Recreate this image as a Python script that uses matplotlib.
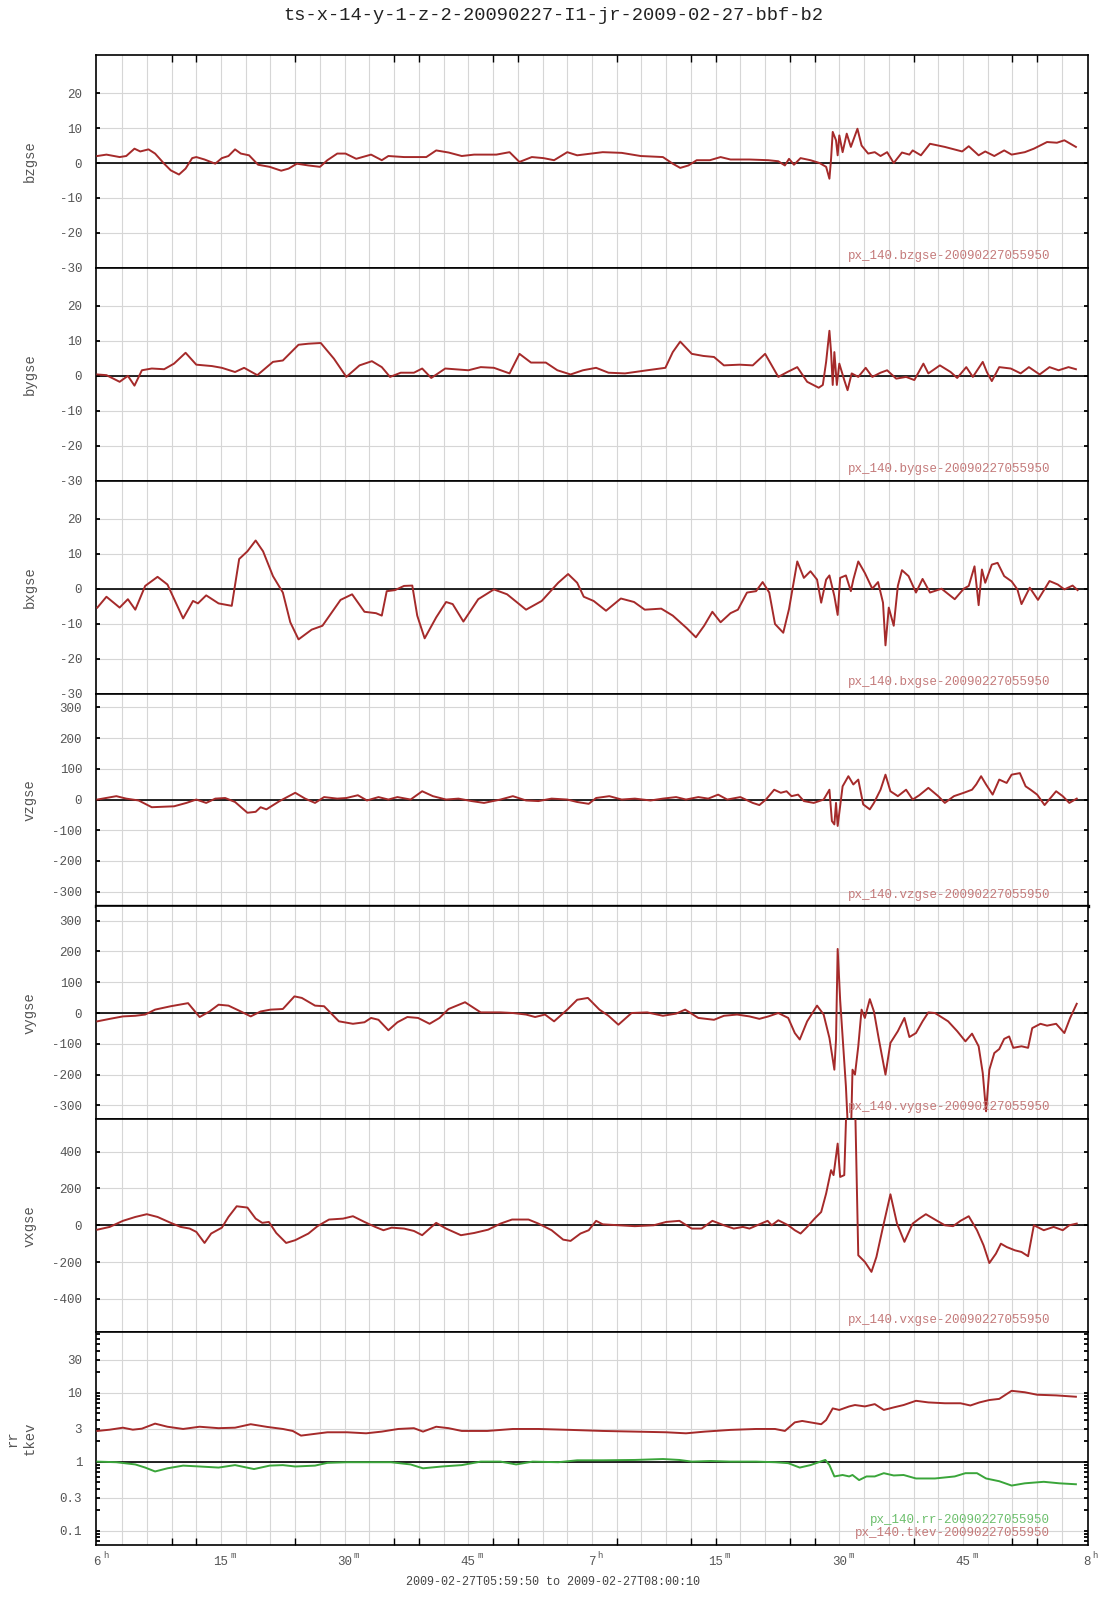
import matplotlib
matplotlib.use("Agg")
import matplotlib.pyplot as plt
import matplotlib.transforms as mtransforms
import numpy as np

plt.rcParams["font.family"] = ["Liberation Mono", "DejaVu Sans Mono"]

TITLE = "ts-x-14-y-1-z-2-20090227-I1-jr-2009-02-27-bbf-b2"
SPAN = "2009-02-27T05:59:50 to 2009-02-27T08:00:10"
STAMP = "20090227055950"

# time in minutes after 06:00
bzgse_t = [0.0, 1.1, 2.7, 3.5, 4.5, 5.2, 6.2, 7.0, 8.1, 8.9, 9.9, 10.7, 11.5, 12.0, 13.0, 14.3,
           15.1, 15.9, 16.7, 17.4, 18.4, 19.5, 20.9, 22.3, 23.2, 24.2, 25.6, 27.0, 27.9, 29.1,
           30.1, 31.4, 33.2, 34.5, 35.3, 37.2, 39.9, 41.1, 42.6, 44.2, 45.7, 48.4, 50.0, 51.2,
           52.7, 54.1, 55.4, 57.0, 58.2, 61.3, 63.6, 65.9, 68.6, 69.8, 70.7, 71.7, 72.7, 74.3,
           75.6, 76.8, 79.1, 81.4, 82.6, 83.4, 83.9, 84.5, 85.3, 86.5, 87.6, 88.4, 88.8, 89.0,
           89.2, 89.6, 89.8, 90.0, 90.4, 90.9, 91.4, 92.2, 92.7, 93.5, 94.3, 95.0, 95.8, 96.6,
           97.6, 98.5, 98.9, 99.9, 101.0, 102.8, 104.9, 105.7, 106.9, 107.7, 108.8, 110.0,
           110.9, 112.5, 113.6, 115.2, 116.4, 117.3, 118.7]
bzgse = [2.0, 2.4, 1.7, 2.0, 4.1, 3.3, 3.9, 2.7, -0.2, -2.1, -3.3, -1.6, 1.4, 1.7, 1.0, -0.2,
         1.4, 2.0, 3.9, 2.7, 2.2, -0.5, -1.1, -2.2, -1.6, -0.2, -0.7, -1.1, 0.8, 2.7,
         2.7, 1.2, 2.4, 0.8, 2.0, 1.7, 1.7, 3.6, 3.0, 2.0, 2.4, 2.4, 3.1, 0.3,
         1.7, 1.4, 0.8, 3.1, 2.2, 3.1, 2.9, 2.0, 1.7, -0.2, -1.4, -0.7, 0.8, 0.8,
         1.7, 1.0, 1.0, 0.8, 0.5, -0.7, 1.2, -0.5, 1.4, 0.8, 0.0, -1.1, -4.5, 1.2,
         8.9, 6.5, 2.2, 7.9, 3.1, 8.4, 4.6, 9.8, 5.0, 2.7, 3.1, 2.0, 3.1, 0.0,
         3.0, 2.4, 3.6, 2.2, 5.5, 4.6, 3.3, 4.8, 2.2, 3.3, 2.0, 3.6,
         2.4, 3.1, 4.1, 6.0, 5.8, 6.5, 4.6]

bygse_t = [0.0, 1.1, 2.7, 3.7, 4.5, 5.4, 6.6, 8.1, 9.3, 10.7, 12.0, 13.9, 15.1, 16.7, 17.8,
           19.4, 21.3, 22.5, 24.4, 25.6, 27.1, 28.7, 30.2, 31.8, 33.3, 34.5, 35.5, 36.8, 38.4,
           39.4, 40.5, 42.2, 45.0, 46.5, 48.1, 50.0, 51.2, 52.6, 54.4, 55.8, 57.4, 58.9, 60.5,
           62.0, 64.0, 66.7, 68.9, 69.8, 70.7, 72.1, 73.5, 74.8, 76.0, 77.9, 79.5, 81.0, 82.6,
           83.7, 84.9, 86.1, 87.5, 88.0, 88.4, 88.8, 89.0, 89.2, 89.4, 89.7, 90.0, 90.6, 91.0,
           91.5, 92.3, 93.2, 94.0, 95.0, 95.8, 96.9, 98.1, 99.1, 100.2, 100.8, 102.2, 103.5,
           104.3, 105.4, 106.2, 107.4, 107.9, 108.5, 109.4, 110.8, 112.0, 113.0, 114.3, 115.5,
           116.6, 117.8, 118.7]
bygse = [0.4, 0.2, -1.7, 0.0, -2.8, 1.6, 2.1, 1.9, 3.5, 6.6, 3.2, 2.8, 2.3, 1.1, 2.3,
         0.2, 4.0, 4.4, 8.9, 9.2, 9.4, 4.9, -0.3, 3.0, 4.2, 2.5, -0.3, 0.9, 0.9,
         2.1, -0.6, 2.1, 1.6, 2.5, 2.3, 0.7, 6.3, 3.8, 3.8, 1.6, 0.4, 1.6, 2.3,
         0.9, 0.7, 1.6, 2.3, 6.8, 9.8, 6.3, 5.7, 5.4, 3.0, 3.2, 3.0, 6.3, -0.3,
         1.1, 2.5, -1.7, -3.4, -2.6, 4.0, 12.9, 6.8, -2.6, 6.8, -2.6, 3.5, -1.2, -4.1,
         0.7, -0.3, 2.3, -0.3, 0.9, 1.6, -0.8, -0.3, -1.2, 3.5, 0.7, 3.0, 1.1,
         -0.6, 2.5, -0.3, 4.0, 1.1, -1.5, 2.5, 2.1, 0.7, 2.5, 0.4, 2.5,
         1.6, 2.5, 1.9]

bxgse_t = [0.0, 1.1, 2.7, 3.7, 4.6, 5.8, 7.3, 8.5, 10.4, 11.6, 12.2, 13.2, 14.7, 16.3, 17.2,
           18.2, 19.2, 20.1, 21.3, 22.5, 23.4, 24.4, 26.0, 27.3, 29.5, 30.9, 32.4, 33.8, 34.5,
           35.1, 36.1, 37.2, 38.2, 38.8, 39.7, 41.1, 42.3, 43.1, 44.4, 46.2, 48.1, 49.7, 52.0,
           53.9, 55.9, 57.1, 58.2, 59.0, 60.2, 61.7, 63.5, 65.1, 66.4, 68.4, 69.8, 71.5, 72.6,
           73.6, 74.6, 75.6, 76.8, 77.7, 78.8, 79.9, 80.7, 81.5, 82.2, 83.2, 83.9, 84.9, 85.7,
           86.5, 87.3, 87.8, 88.4, 88.8, 89.4, 89.8, 90.1, 90.8, 91.4, 91.7, 92.3, 93.1, 94.0,
           94.7, 95.3, 95.6, 96.0, 96.6, 97.1, 97.6, 98.4, 99.3, 100.1, 101.0, 102.4, 104.0,
           105.1, 105.7, 106.4, 106.9, 107.3, 107.7, 108.5, 109.2, 110.0, 110.9, 111.6, 112.1,
           113.1, 114.1, 115.5, 116.5, 117.3, 118.3, 118.9]
bxgse = [-5.4, -2.3, -5.4, -3.0, -6.0, 0.8, 3.4, 1.2, -8.5, -3.5, -4.2, -1.9, -4.2, -4.9, 8.5,
         10.7, 13.8, 10.7, 3.6, -1.1, -9.6, -14.5, -11.7, -10.6, -3.2, -1.6, -6.6, -7.0, -7.7,
         -0.7, -0.4, 0.8, 0.9, -7.7, -14.2, -8.2, -3.8, -4.4, -9.4, -3.0, -0.2, -1.6, -6.0,
         -3.5, 1.7, 4.2, 1.7, -2.3, -3.5, -6.3, -2.8, -3.8, -6.0, -5.7, -7.7, -11.3, -13.9,
         -10.6, -6.6, -9.6, -7.0, -6.0, -1.1, -0.7, 1.9, -1.1, -10.1, -12.6, -5.8, 7.8, 3.1,
         5.0, 2.6, -4.0, 2.6, 3.8, -2.1, -7.5, 3.1, 3.8, -0.7, 2.6, 7.8, 4.5, 0.0,
         1.9, -4.0, -16.2, -5.4, -10.6, 0.8, 5.3, 3.6, -1.1, 2.8, -1.1, 0.0, -3.0,
         0.0, 0.8, 6.4, -4.7, 5.5, 1.7, 6.9, 7.4, 3.6, 2.1, -0.2, -4.4,
         0.3, -3.2, 2.2, 1.2, -0.2, 0.9, -0.4]

vzgse_t = [0.0, 2.3, 3.5, 5.0, 6.6, 9.3, 10.8, 12.0, 13.2, 14.3, 15.5, 16.7, 18.2, 19.2, 19.8,
           20.5, 22.1, 24.0, 25.2, 26.4, 27.5, 29.1, 30.2, 31.6, 32.7, 34.1, 35.3, 36.4, 38.0,
           39.4, 40.7, 42.3, 43.8, 45.4, 46.9, 48.9, 50.4, 52.0, 53.5, 55.1, 57.0, 58.2, 59.6,
           60.5, 62.1, 63.6, 65.2, 67.1, 68.6, 70.2, 71.4, 72.9, 74.1, 75.3, 76.4, 78.0, 79.5,
           80.3, 81.1, 82.1, 82.9, 83.6, 84.2, 85.0, 85.7, 86.9, 88.1, 88.8, 89.1, 89.4, 89.6,
           89.8, 90.4, 91.1, 91.7, 92.3, 92.9, 93.7, 94.2, 95.0, 95.6, 96.2, 97.1, 98.1, 98.9,
           99.7, 100.8, 102.0, 102.8, 103.9, 105.1, 106.1, 106.6, 107.2, 107.8, 108.6, 109.4,
           110.3, 110.9, 111.9, 112.6, 113.2, 114.0, 114.9, 116.3, 117.1, 117.9, 118.8]
vzgse = [0, 11, 3, -3, -25, -22, -11, 0, -11, 3, 5, -8, -43, -40, -25,
         -32, -5, 22, 3, -11, 8, 3, 5, 14, -3, 8, 0, 8, 0,
         27, 11, 0, 3, -5, -11, 0, 11, -3, -5, 3, 0, -8, -14,
         5, 11, 0, 3, -3, 3, 8, 0, 8, 3, 16, 0, 8, -11,
         -18, 0, 32, 22, 27, 11, 16, -5, -11, 0, 32, -70, -81, -11,
         -86, 43, 76, 49, 65, -16, -32, -11, 32, 81, 27, 11, 32, 0,
         14, 38, 11, -11, 11, 22, 32, 49, 76, 49, 16, 65,
         54, 81, 86, 43, 32, 16, -18, 27, 11, -11, 3]

vygse_t = [0.0, 1.5, 3.1, 4.6, 5.8, 7.0, 8.9, 11.0, 12.4, 13.6, 14.7, 15.9, 17.4, 18.6, 19.8,
           21.0, 22.5, 23.9, 24.8, 26.4, 27.5, 29.3, 31.0, 32.4, 33.2, 34.1, 35.3, 36.4, 37.6,
           38.9, 40.3, 41.5, 42.6, 44.6, 46.5, 48.9, 50.4, 52.0, 53.1, 54.3, 55.4, 57.0, 58.2,
           59.5, 60.9, 62.0, 63.2, 64.8, 66.7, 68.6, 70.2, 71.3, 72.9, 74.8, 76.0, 77.6, 79.1,
           80.3, 81.4, 82.6, 83.8, 84.6, 85.2, 86.1, 87.3, 88.1, 88.8, 89.4, 89.6, 89.8, 90.1,
           90.8, 91.3, 91.6, 91.9, 92.3, 92.7, 93.1, 93.7, 94.2, 94.8, 95.6, 96.2, 97.1, 97.9,
           98.5, 99.3, 100.1, 100.8, 101.6, 103.2, 104.3, 105.3, 106.1, 106.9, 107.4, 107.8,
           108.2, 108.8, 109.4, 110.0, 110.6, 111.1, 112.1, 112.9, 113.4, 114.4, 115.2, 116.3,
           117.3, 118.0, 118.8]
vygse = [-27, -19, -11, -9, -5, 11, 22, 32, -13, 5, 27, 24, 5, -11, 5,
         11, 13, 54, 49, 24, 22, -27, -35, -30, -16, -22, -56, -30, -13,
         -16, -35, -16, 13, 35, 2, 2, 0, -5, -13, -5, -27, 11, 43,
         49, 11, -9, -38, 0, 2, -9, -2, 11, -16, -22, -9, -5, -11,
         -19, -11, 0, -16, -65, -86, -27, 24, -5, -81, -184, -86, 208, 43,
         -238, -520, -184, -200, -108, 11, -16, 45, 5, -86, -200, -97, -59, -16,
         -78, -65, -27, 2, 0, -27, -59, -92, -67, -108, -195, -319,
         -184, -130, -117, -84, -76, -113, -108, -113, -49, -35, -41, -35,
         -65, -16, 30]

vxgse_t = [0.0, 1.5, 3.1, 4.6, 6.0, 7.3, 8.9, 10.1, 11.2, 12.0, 13.0, 13.8, 15.1, 15.9, 16.9,
           18.2, 19.2, 20.0, 20.8, 21.7, 22.9, 24.0, 25.6, 26.7, 28.1, 29.8, 31.0, 32.4, 33.7,
           34.7, 35.7, 37.2, 38.4, 39.4, 40.3, 41.1, 42.3, 44.1, 45.7, 47.4, 48.9, 50.3, 52.3,
           53.5, 55.1, 56.5, 57.4, 58.6, 59.6, 60.5, 61.3, 63.2, 65.2, 67.5, 69.0, 70.6, 72.1,
           73.3, 74.6, 76.0, 77.2, 78.3, 79.1, 80.3, 81.3, 81.8, 82.6, 83.8, 84.6, 85.3, 86.1,
           87.0, 87.8, 88.4, 89.0, 89.3, 89.8, 90.1, 90.6, 90.9, 91.9, 92.3, 93.1, 93.9, 94.5,
           95.3, 96.2, 97.0, 97.9, 98.9, 99.7, 100.5, 101.6, 102.8, 103.8, 104.7, 105.7, 106.7,
           107.5, 108.2, 109.0, 109.6, 110.3, 111.3, 112.1, 112.9, 113.6, 114.8, 116.0, 117.1,
           117.9, 118.8]
vxgse = [-24, -9, 24, 45, 60, 45, 13, -9, -18, -36, -96, -45, -13, 45, 103,
         96, 36, 13, 18, -42, -96, -81, -45, -5, 31, 36, 49, 18, -9,
         -27, -13, -18, -31, -54, -18, 13, -18, -54, -42, -24, 9, 31, 31,
         9, -27, -78, -85, -45, -27, 24, 5, 0, -5, 0, 18, 24, -18,
         -18, 24, 0, -18, -9, -18, 5, 24, 0, 27, 0, -27, -45, -9,
         36, 72, 172, 299, 272, 443, 262, 272, 700, 700, -163, -199, -253, -172,
         -9, 168, 9, -90, 9, 36, 60, 31, 0, -5, 24, 49, -27,
         -109, -205, -154, -100, -118, -136, -145, -168, 0, -27, -9, -27,
         0, 9]

tkev_t = [0.0, 1.5, 3.1, 4.3, 5.4, 7.0, 8.5, 10.4, 12.4, 14.7, 16.7, 18.6, 20.6, 22.5, 23.7,
          24.7, 26.0, 27.9, 30.3, 32.6, 34.5, 36.5, 38.4, 39.5, 41.1, 42.6, 44.2, 47.3, 50.4,
          53.5, 57.4, 61.3, 65.2, 69.0, 71.4, 73.7, 76.8, 79.9, 82.2, 83.4, 84.6, 85.5, 86.5,
          87.8, 88.4, 89.2, 90.0, 91.2, 91.9, 93.1, 94.3, 95.4, 96.6, 97.8, 99.3, 100.8, 102.8,
          104.7, 105.9, 107.0, 108.2, 109.4, 110.9, 112.5, 114.0, 116.3, 118.7]
tkev = [2.78, 2.9, 3.1, 2.9, 3.0, 3.55, 3.2, 2.97, 3.2, 3.05, 3.1, 3.48, 3.18, 2.97, 2.78,
        2.38, 2.49, 2.66, 2.66, 2.57, 2.72, 2.97, 3.05, 2.72, 3.2, 3.05, 2.78, 2.78, 2.97,
        2.97, 2.88, 2.78, 2.72, 2.66, 2.57, 2.72, 2.88, 2.97, 2.97, 2.78, 3.7, 3.88, 3.7,
        3.48, 4.0, 5.9, 5.6, 6.3, 6.6, 6.3, 6.8, 5.6, 6.1, 6.6, 7.6, 7.2, 7.0,
        7.0, 6.5, 7.2, 7.8, 8.1, 10.6, 10.1, 9.3, 9.1, 8.7]

rr_t = [0.0, 2.3, 4.6, 5.8, 7.0, 8.5, 10.4, 12.4, 14.7, 16.7, 19.0, 20.9, 22.5, 24.0, 26.4,
        27.9, 30.3, 33.3, 35.6, 38.0, 39.5, 41.8, 44.2, 46.5, 48.9, 50.8, 52.8, 55.9, 58.2,
        61.3, 65.2, 68.6, 70.6, 72.1, 74.4, 76.8, 79.9, 82.2, 83.8, 85.2, 86.5, 87.7, 88.3,
        88.8, 89.4, 90.4, 91.2, 91.6, 92.4, 93.3, 94.3, 95.4, 96.6, 97.8, 99.3, 101.6, 104.0,
        105.3, 106.7, 107.8, 109.4, 110.9, 112.5, 114.8, 116.7, 118.7]
rr = [1.0, 0.98, 0.91, 0.82, 0.72, 0.80, 0.875, 0.85, 0.82, 0.89, 0.78, 0.875, 0.89, 0.85, 0.875,
      0.96, 0.98, 0.98, 0.98, 0.91, 0.80, 0.85, 0.89, 1.0, 1.0, 0.91, 1.0, 0.98, 1.045,
      1.045, 1.057, 1.09, 1.057, 1.0, 1.02, 1.0, 1.0, 0.98, 0.95, 0.82, 0.89, 1.0, 1.057,
      0.89, 0.61, 0.64, 0.61, 0.64, 0.54, 0.61, 0.61, 0.68, 0.63, 0.64, 0.57, 0.57, 0.61,
      0.68, 0.68, 0.57, 0.52, 0.45, 0.485, 0.51, 0.485, 0.47]

xtick_pos = [0, 15, 30, 45, 60, 75, 90, 105, 120]
xtick_num = ["6", "15", "30", "45", "7", "15", "30", "45", "8"]
xtick_sup = ["h", "m", "m", "m", "h", "m", "m", "m", "h"]
xmark_pos = [9, 12, 24, 36, 39, 48, 51, 63, 72, 75, 84, 87, 99, 111, 114]

RED = "#a52a2a"
GREEN = "#3aa53a"
GRID = "#d6d6d6"
TXT = "#555555"
FS = 9

panels = [
    ("bzgse", bzgse_t, bzgse, (-30, 30.9), [20, 10, 0, -10, -20, -30]),
    ("bygse", bygse_t, bygse, (-30, 30.9), [20, 10, 0, -10, -20, -30]),
    ("bxgse", bxgse_t, bxgse, (-30, 30.9), [20, 10, 0, -10, -20, -30]),
    ("vzgse", vzgse_t, vzgse, (-348, 345), [300, 200, 100, 0, -100, -200, -300]),
    ("vygse", vygse_t, vygse, (-345, 346), [300, 200, 100, 0, -100, -200, -300]),
    ("vxgse", vxgse_t, vxgse, (-580, 575), [400, 200, 0, -200, -400]),
]

W, H = 1107, 1600
fig = plt.figure(figsize=(W / 100, H / 100), dpi=100)
left, right, top, bottom = 96 / W, 1088 / W, 1 - 55 / H, 1 - 1545 / H
ph = (top - bottom) / 7


def style_axes(ax, last=False, first=False):
    ax.set_xlim(-10 / 60, 120 + 10 / 60)
    for x in np.arange(3, 120, 3):
        ax.axvline(x, color=GRID, lw=0.8, zorder=0)
    for s in ax.spines.values():
        s.set_color("black")
        s.set_linewidth(1.2)
    ax.yaxis.grid(True, color=GRID, lw=0.8, zorder=0)
    ax.set_axisbelow(True)
    ax.tick_params(axis="y", which="major", direction="in", length=3, width=1.3,
                   left=True, right=True, labelsize=FS, labelcolor=TXT, pad=10)
    ax.set_xticks(xmark_pos, minor=True)
    ax.tick_params(axis="x", which="minor", direction="in", length=5, width=1,
                   bottom=last, top=first)
    ax.set_xticks([])


for i, (name, t, v, ylim, yt) in enumerate(panels):
    ax = fig.add_axes([left, top - (i + 1) * ph, right - left, ph])
    ax.plot(t, v, color=RED, lw=1.4, zorder=3)
    ax.axhline(0, color="black", lw=1.2, zorder=2)
    ax.set_ylim(*ylim)
    ax.set_yticks(yt)
    ax.set_yticklabels([str(y) for y in yt])
    style_axes(ax, first=(i == 0))
    if name == "vzgse":
        ax.spines["bottom"].set_linewidth(2.4)
    ax.text(0.962, 0.056, "px_140.%s-%s" % (name, STAMP), transform=ax.transAxes,
            ha="right", va="center", fontsize=FS, color="#c47a7a")
    fig.text(30 / W, top - (i + 0.5) * ph, name, rotation=90, ha="center", va="center",
             fontsize=10, color=TXT)

# temperature / density panel on a log scale
ax = fig.add_axes([left, bottom, right - left, ph])
ax.plot(tkev_t, tkev, color=RED, lw=1.4, zorder=3)
ax.plot(rr_t, rr, color=GREEN, lw=1.4, zorder=3)
ax.axhline(1, color="black", lw=1.2, zorder=2)
ax.set_yscale("log")
ax.set_ylim(0.062, 75)
log_ticks = [30, 10, 3, 1, 0.3, 0.1]
ax.set_yticks(log_ticks)
ax.set_yticklabels(["30", "10", "3", "1", "0.3", "0.1"])
ax.yaxis.set_minor_locator(matplotlib.ticker.LogLocator(subs=np.arange(2, 10)))
ax.yaxis.set_minor_formatter(matplotlib.ticker.NullFormatter())
ax.tick_params(axis="y", which="minor", direction="in", length=3, width=1.3,
               left=True, right=True)
style_axes(ax, last=True)
ax.text(0.962, 0.117, "px_140.rr-%s" % STAMP, transform=ax.transAxes,
        ha="right", va="center", fontsize=FS, color="#6cbf6c")
ax.text(0.962, 0.055, "px_140.tkev-%s" % STAMP, transform=ax.transAxes,
        ha="right", va="center", fontsize=FS, color="#c47a7a")

# hour / minute labels: number centred on the time, unit as a superscript
blend = mtransforms.blended_transform_factory(ax.transData, ax.transAxes)
for x, num, sup in zip(xtick_pos, xtick_num, xtick_sup):
    ax.annotate(num, xy=(x, 0), xycoords=blend, xytext=(0, -12), textcoords="offset points",
                ha="center", va="center", fontsize=FS, color=TXT)
    ax.annotate(sup, xy=(x, 0), xycoords=blend, xytext=(len(num) * 2.7 + 1.2, -7.5),
                textcoords="offset points", ha="left", va="center", fontsize=6.5, color=TXT)

yc = bottom + 0.5 * ph
fig.text(12 / W, yc, "rr", rotation=90, ha="center", va="center", fontsize=10, color=TXT)
fig.text(30 / W, yc, "tkev", rotation=90, ha="center", va="center", fontsize=10, color=TXT)

fig.text(0.5, 1 - 15 / H, TITLE, ha="center", va="center", fontsize=13.5, color="#222222")
fig.text(0.5, 1 - 1582 / H, SPAN, ha="center", va="center", fontsize=8.5, color="#444444")

fig.savefig("out.png", dpi=100)
plt.close(fig)
